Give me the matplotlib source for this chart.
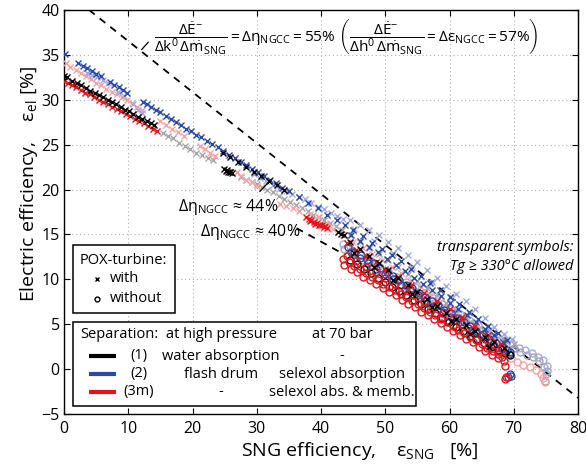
import matplotlib
matplotlib.use("Agg")
import matplotlib.pyplot as plt
from matplotlib.patches import Rectangle

plt.rcParams['font.family'] = ['Open Sans', 'DejaVu Sans']
plt.rcParams['mathtext.fontset'] = 'custom'
plt.rcParams['mathtext.rm'] = 'Open Sans'
plt.rcParams['mathtext.it'] = 'Open Sans:italic'
plt.rcParams['mathtext.bf'] = 'Open Sans:bold'

# ---------------- data ----------------
# with POX turbine (x markers), opaque = Tg limited
blk_x_x = [0.0, 0.4, 1.3, 2.0, 2.7, 3.4, 4.1, 4.8, 5.5, 6.1, 6.8, 7.5, 8.1, 8.8, 9.5, 10.1, 10.8, 11.5, 12.2, 12.9, 13.5, 14.0,
           24.9, 25.2, 25.5, 25.8, 26.1, 25.4, 25.9,
           24.7, 25.9, 27.1, 28.3, 29.5, 30.7, 31.9, 33.1, 34.3,
           42.6, 43.1, 43.6,
           44.5, 46.0, 47.5, 49.0, 50.5, 52.0, 53.5, 55.0, 56.5, 58.0, 59.5, 61.0, 62.5, 64.0, 65.5, 67.0, 68.5,
           45.2, 48.2, 51.2, 54.2, 57.2, 60.2, 63.2, 66.2]
blk_x_y = [32.6, 32.5, 32.1, 31.9, 31.6, 31.3, 31.0, 30.8, 30.5, 30.3, 30.0, 29.7, 29.5, 29.2, 28.9, 28.7, 28.4, 28.1, 27.9, 27.6, 27.4, 27.2,
           22.3, 22.1, 21.9, 22.0, 21.8, 22.2, 21.9,
           24.1, 23.6, 23.1, 22.5, 22.0, 21.5, 21.0, 20.5, 20.0,
           15.3, 15.1, 14.9,
           14.2, 13.4, 12.6, 11.8, 11.0, 10.2, 9.4, 8.6, 7.8, 7.0, 6.3, 5.6, 4.9, 4.2, 3.6, 3.0, 2.4,
           12.9, 11.4, 9.9, 8.4, 6.9, 5.4, 3.9, 2.5]

blu_x_x = [0.1, 2.2, 2.9, 3.6, 4.3, 5.0, 5.7, 7.2, 7.8, 8.5, 9.2, 9.8, 12.3, 12.9, 13.6, 14.3, 15.0, 15.8, 16.6, 17.4, 18.2,
           19.0, 19.8, 20.6, 21.4, 22.2, 23.0, 23.9, 24.8, 25.7, 26.6, 27.5, 28.4, 29.3, 30.2, 31.1, 32.0, 33.0, 34.0,
           35.0, 36.5, 38.0, 39.5, 41.0, 42.5, 43.7,
           45.0, 46.5, 48.0, 49.5, 51.0, 52.5, 54.0, 55.5, 57.0, 58.5, 60.0, 61.5, 63.0, 64.5, 66.0, 67.5, 69.0,
           44.6, 46.0, 47.4, 48.8, 50.2, 51.6, 53.0, 54.4, 55.8, 57.2, 58.6, 60.0, 61.4, 62.8, 64.2, 65.6, 67.0, 68.4]
blu_x_y = [35.1, 34.1, 33.8, 33.5, 33.2, 32.9, 32.6, 32.0, 31.7, 31.4, 31.1, 30.8, 29.8, 29.5, 29.2, 28.9, 28.6, 28.2, 27.9, 27.5, 27.2,
           26.8, 26.5, 26.1, 25.8, 25.4, 25.1, 24.7, 24.3, 23.9, 23.5, 23.1, 22.7, 22.3, 21.9, 21.5, 21.1, 20.7, 20.2,
           19.8, 19.2, 18.5, 17.9, 17.2, 16.6, 16.1,
           15.5, 14.8, 14.1, 13.4, 12.7, 12.0, 11.2, 10.4, 9.6, 8.8, 8.0, 7.2, 6.4, 5.6, 4.8, 4.0, 3.2,
           14.9, 14.3, 13.6, 13.0, 12.3, 11.6, 10.9, 10.2, 9.5, 8.8, 8.1, 7.4, 6.7, 6.0, 5.2, 4.5, 3.8, 3.0]

red_x_x = [0.0, 0.6, 1.2, 1.9, 2.6, 3.3, 4.0, 4.7, 5.4, 6.1, 6.8, 7.5, 8.2, 8.9, 9.6, 10.3, 11.0, 11.7, 12.4, 13.1, 13.8, 14.4,
           37.7, 38.1, 38.5, 38.9, 39.3, 39.7, 40.1, 40.5, 40.9, 38.3, 39.0, 39.8, 40.6,
           44.0, 45.5, 47.0, 48.5, 50.0, 52.0, 54.0, 56.0, 58.0, 60.0, 62.0, 64.0, 66.0, 68.0]
red_x_y = [32.1, 31.9, 31.6, 31.4, 31.1, 30.8, 30.6, 30.3, 30.0, 29.8, 29.5, 29.2, 29.0, 28.7, 28.4, 28.2, 27.9, 27.6, 27.4, 27.1, 26.8, 26.5,
           16.9, 16.7, 16.6, 16.4, 16.3, 16.1, 16.0, 15.8, 15.7, 16.5, 16.2, 16.0, 15.9,
           14.0, 13.3, 12.6, 11.9, 11.2, 10.3, 9.4, 8.5, 7.6, 6.7, 5.8, 4.8, 3.8, 2.8]

# with POX turbine, transparent = Tg >= 330 C allowed
gry_x_x = [15.4, 16.2, 17.0, 17.9, 18.8, 19.6, 20.6, 21.5, 22.4, 23.2,
           27.6, 28.4, 29.2, 30.0, 30.8, 31.6, 32.5, 33.4, 34.3, 35.2, 36.1, 37.0, 37.9, 38.8, 39.7, 40.5, 41.4, 42.3, 43.2,
           44.5, 46.0, 47.5, 49.0, 50.5, 52.0, 53.5, 55.0, 56.5, 58.0, 59.5, 61.0, 62.5, 64.0, 65.5, 67.0, 68.5, 70.0]
gry_x_y = [26.3, 26.0, 25.7, 25.2, 24.8, 24.5, 24.1, 23.8, 23.5, 23.3,
           21.4, 21.1, 20.8, 20.6, 20.3, 20.0, 19.7, 19.3, 19.0, 18.6, 18.3, 17.9, 17.6, 17.2, 16.9, 16.6, 16.3, 15.9, 15.5,
           14.9, 14.2, 13.5, 12.8, 12.1, 11.4, 10.6, 9.8, 9.0, 8.2, 7.4, 6.6, 5.8, 5.0, 4.3, 3.7, 3.2, 2.8]

pnk_x_x = [0.3, 1.0, 1.8, 2.6, 3.4, 4.2, 5.0, 5.8, 6.6, 7.4, 8.2, 9.0, 9.8, 10.6, 11.4, 12.2,
           15.0, 15.9, 16.8, 17.7, 18.6, 21.1, 21.9, 22.7, 23.5, 26.9, 27.6, 28.4, 29.2, 30.0,
           33.6, 34.6, 35.6, 36.6, 38.3, 39.5, 41.0, 41.8, 42.6, 43.4,
           45.0, 46.5, 48.0, 49.5, 51.0, 52.5, 54.0, 55.5, 57.0, 58.5, 60.0, 61.5, 63.0, 64.5, 66.0, 67.5]
pnk_x_y = [34.1, 33.7, 33.3, 33.0, 32.6, 32.3, 31.9, 31.6, 31.2, 30.9, 30.6, 30.3, 30.0, 29.6, 29.2, 28.9,
           27.6, 27.2, 26.8, 26.4, 26.0, 24.8, 24.5, 24.1, 23.7, 21.9, 21.5, 21.1, 20.8, 20.4,
           18.4, 18.2, 18.0, 17.6, 17.3, 16.9, 15.9, 15.6, 15.3, 14.9,
           14.2, 13.5, 12.8, 12.1, 11.4, 10.7, 9.9, 9.1, 8.3, 7.5, 6.7, 5.9, 5.1, 4.3, 3.5, 2.8]

lav_x_x = [3.6, 4.4, 5.2, 6.0, 6.8, 8.4, 9.4, 10.8, 11.5, 12.2,
           29.5, 30.5, 31.5, 32.5, 33.5, 34.5, 35.5, 36.5, 37.5, 38.5, 39.5, 40.5, 41.5, 42.5, 43.5,
           44.5, 46.0, 47.5, 49.0, 50.5, 52.0, 53.5, 55.0, 56.5, 58.0, 59.5, 61.0, 62.5, 64.0, 65.5, 67.0, 68.5, 69.8,
           45.2, 48.2, 51.2, 54.2, 57.2, 60.2, 63.2, 66.2]
lav_x_y = [33.0, 32.8, 32.5, 32.2, 31.9, 30.9, 30.4, 29.5, 28.9, 28.5,
           21.7, 21.3, 20.9, 20.5, 20.1, 19.8, 19.5, 19.2, 18.9, 18.5, 18.1, 17.8, 17.4, 17.0, 16.7,
           16.6, 16.1, 15.5, 14.9, 14.2, 13.5, 12.7, 11.9, 11.0, 10.2, 9.3, 8.4, 7.6, 6.7, 5.7, 4.7, 3.9, 3.3,
           15.6, 14.3, 12.9, 11.4, 9.7, 8.0, 6.3, 4.4]

# without POX turbine (circles), opaque
red_o_x = [43.4, 44.3, 45.2, 46.1, 47.0, 47.9, 48.8, 49.7, 50.6, 51.5, 52.4, 53.3, 54.2, 55.1, 56.0, 56.9, 57.8, 58.7, 59.6,
           60.5, 61.4, 62.3, 63.2, 64.1, 65.0, 65.9, 66.8, 67.6, 68.2,
           43.6, 44.6, 45.6, 46.6, 47.6, 48.6, 49.6, 50.6, 51.6, 52.6, 53.6, 54.6, 55.6, 56.6, 57.6, 58.6, 59.6, 60.6,
           61.6, 62.6, 63.6, 64.6, 65.6, 66.6, 67.5,
           44.0, 45.5, 47.0, 48.5, 50.0, 51.5, 53.0, 54.5, 56.0, 57.5, 59.0, 60.5, 62.0, 63.5, 65.0, 66.5, 68.0,
           68.5, 68.6, 68.7, 68.8]
red_o_y = [12.3, 11.9, 11.5, 11.1, 10.7, 10.3, 9.9, 9.5, 9.2, 8.8, 8.4, 8.0, 7.6, 7.2, 6.8, 6.4, 6.0, 5.6, 5.2,
           4.8, 4.4, 4.0, 3.6, 3.2, 2.8, 2.4, 2.0, 1.7, 1.4,
           11.6, 11.2, 10.8, 10.3, 9.9, 9.5, 9.0, 8.6, 8.2, 7.7, 7.3, 6.9, 6.4, 6.0, 5.6, 5.1, 4.7, 4.3,
           3.8, 3.4, 3.0, 2.5, 2.0, 1.6, 1.2,
           12.6, 12.0, 11.4, 10.8, 10.1, 9.5, 8.9, 8.2, 7.6, 7.0, 6.3, 5.7, 5.0, 4.4, 3.7, 3.0, 2.3,
           0.9, 0.3, -1.1, -0.9]

blu_o_x = [44.2, 45.2, 46.2, 47.2, 48.2, 49.2, 50.2, 51.2, 52.2, 53.2, 54.2, 55.2, 56.2, 57.2, 58.2, 59.2, 60.2, 61.2,
           62.2, 63.2, 64.2, 65.2, 66.2, 67.2, 68.2, 69.0, 69.4,
           44.7, 46.0, 47.3, 48.6, 49.9, 51.2, 52.5, 53.8, 55.1, 56.4, 57.7, 59.0, 60.3, 61.6, 62.9, 64.2, 65.5, 66.8, 68.1, 69.2,
           69.1, 69.4, 69.6]
blu_o_y = [13.6, 13.1, 12.7, 12.2, 11.8, 11.3, 10.8, 10.4, 9.9, 9.4, 9.0, 8.5, 8.0, 7.6, 7.1, 6.6, 6.2, 5.7,
           5.3, 4.8, 4.3, 3.9, 3.4, 2.9, 2.5, 2.1, 1.9,
           13.0, 12.4, 11.8, 11.2, 10.6, 10.0, 9.4, 8.8, 8.2, 7.6, 7.0, 6.4, 5.8, 5.2, 4.6, 4.0, 3.4, 2.8, 2.2, 1.7,
           -0.9, -0.6, -0.8]

blk_o_x = [44.5, 45.6, 46.7, 47.8, 48.9, 50.0, 51.1, 52.2, 53.3, 54.4, 55.5, 56.6, 57.7, 58.8, 59.9, 61.0, 62.1, 63.2,
           64.3, 65.4, 66.5, 67.6, 68.7, 69.4]
blk_o_y = [12.2, 11.7, 11.2, 10.7, 10.2, 9.7, 9.2, 8.7, 8.2, 7.7, 7.2, 6.7, 6.2, 5.7, 5.2, 4.7, 4.2, 3.7,
           3.3, 2.9, 2.5, 2.1, 1.8, 1.6]

# without POX turbine, transparent
lav_o_x = [43.4, 44.8, 46.2, 47.6, 49.0, 50.4, 51.8, 53.2, 54.6, 56.0, 57.4, 58.8, 60.2, 61.6, 63.0, 64.4, 65.8, 67.2,
           68.6, 69.8, 70.8, 71.8, 72.8, 73.8, 74.6, 75.1, 75.2]
lav_o_y = [13.9, 13.3, 12.7, 12.1, 11.5, 10.9, 10.3, 9.7, 9.1, 8.5, 7.9, 7.3, 6.7, 6.1, 5.5, 4.9, 4.3, 3.7,
           3.2, 2.8, 2.4, 2.1, 1.8, 1.4, 1.0, 0.4, -0.2]
gry_o_x = [43.6, 45.0, 46.4, 47.8, 49.2, 50.6, 52.0, 53.4, 54.8, 56.2, 57.6, 59.0, 60.4, 61.8, 63.2, 64.6, 66.0, 67.4,
           68.8, 70.0, 71.0, 72.0, 73.0, 74.0, 74.7, 75.0, 74.9]
gry_o_y = [13.4, 12.8, 12.2, 11.6, 11.0, 10.4, 9.8, 9.2, 8.6, 8.0, 7.4, 6.8, 6.2, 5.6, 5.0, 4.4, 3.8, 3.2,
           2.7, 2.3, 1.9, 1.6, 1.3, 0.9, 0.2, -0.6, -1.3]
pnk_o_x = [44.0, 45.5, 47.0, 48.5, 50.0, 51.5, 53.0, 54.5, 56.0, 57.5, 59.0, 60.5, 62.0, 63.5, 65.0, 66.5, 68.0,
           69.5, 70.5, 71.5, 72.5, 73.5, 74.2, 74.6, 74.9]
pnk_o_y = [12.8, 12.1, 11.5, 10.8, 10.1, 9.5, 8.8, 8.1, 7.4, 6.8, 6.1, 5.4, 4.7, 4.0, 3.3, 2.5, 1.8,
           1.2, 0.8, 0.5, 0.2, -0.1, -0.5, -1.0, -1.4]

# reference lines (slopes of NGCC efficiency)
line55_x = [3.9, 80.0]
line55_y = [40.0, -3.2]
line40_x = [36.2, 43.8]
line40_y = [15.7, 12.7]

x_ticks = [0, 10, 20, 30, 40, 50, 60, 70, 80]
y_ticks = [-5, 0, 5, 10, 15, 20, 25, 30, 35, 40]

# ---------------- figure ----------------
W, H = 586, 471
fig = plt.figure(figsize=(W / 100, H / 100), dpi=100)
L, R, T, B = 64, 578, 10, 414
ax = fig.add_axes([L / W, 1 - B / H, (R - L) / W, (B - T) / H])

BLUE = '#2a4aa6'
RED = '#e5141b'
BLACK = '#000000'
c_lav = '#a4a9de'
c_pnk = '#f5a3a3'
c_gry = '#a6a6a6'

ax.plot(line55_x, line55_y, color='k', lw=1.3, ls=(0, (4, 3.5)), zorder=2)
ax.plot(line40_x, line40_y, color='k', lw=1.3, ls=(0, (4, 3.5)), zorder=2)

ms = 5.0
kx = dict(ls='none', marker='x', ms=ms, mew=1.0)
ko = dict(ls='none', marker='o', ms=ms, mew=1.0, mfc='none')

# transparent first
ax.plot(gry_o_x, gry_o_y, color=c_gry, zorder=3, **ko)
ax.plot(pnk_o_x, pnk_o_y, color=c_pnk, zorder=3, **ko)
ax.plot(lav_o_x, lav_o_y, color=c_lav, zorder=3, **ko)
ax.plot(gry_x_x, gry_x_y, color=c_gry, zorder=3, **kx)
ax.plot(pnk_x_x, pnk_x_y, color=c_pnk, zorder=3, **kx)
ax.plot(lav_x_x, lav_x_y, color=c_lav, zorder=3, **kx)
# opaque
ax.plot(blu_o_x, blu_o_y, color=BLUE, zorder=4, **ko)
ax.plot(blk_o_x, blk_o_y, color=BLACK, zorder=4, **ko)
ax.plot(red_o_x, red_o_y, color=RED, zorder=4, **ko)
ax.plot(blu_x_x, blu_x_y, color=BLUE, zorder=5, **kx)
ax.plot(red_x_x, red_x_y, color=RED, zorder=5, **kx)
ax.plot(blk_x_x, blk_x_y, color=BLACK, zorder=5, **kx)

ax.set_xlim(0, 80)
ax.set_ylim(-5, 40)
ax.set_xticks(x_ticks)
ax.set_yticks(y_ticks)
ax.set_yticklabels(['\u22125' if v < 0 else str(v) for v in y_ticks])
ax.grid(True, color='#b0b0b0', lw=0.8, ls=(0, (1, 2.5)))
ax.set_axisbelow(True)
ax.tick_params(direction='in', top=True, right=True, length=4, width=0.8, labelsize=11.5)
ax.tick_params(axis='x', pad=5)
ax.tick_params(axis='y', pad=3)
for s in ax.spines.values():
    s.set_linewidth(1.0)

# axis labels
ax.text(0.575, -0.092, r"SNG efficiency,    $\mathrm{ε_{SNG}}$   [%]", transform=ax.transAxes,
        ha='center', va='center', fontsize=14)
ax.text(-0.068, 0.57, r"Electric efficiency,    $\mathrm{ε_{el}}$ [%]", transform=ax.transAxes,
        ha='center', va='center', fontsize=14, rotation=90)

# annotations
ann = (r"$\dfrac{\mathrm{Δ\dot{E}^{-}}}{\mathrm{Δk^{0}\,Δ\dot{m}_{SNG}}} = \mathrm{Δη_{NGCC}} = \mathrm{55\%}"
       r"\ \left(\dfrac{\mathrm{Δ\dot{E}^{-}}}{\mathrm{Δh^{0}\,Δ\dot{m}_{SNG}}} = \mathrm{Δε_{NGCC}} = \mathrm{57\%}\right)$")
ax.text(14.0, 37.0, ann, ha='left', va='center', fontsize=11.1)
ax.plot([12.1, 13.1], [35.6, 36.4], color='k', lw=0.9)
ax.text(17.7, 18.1, r"$\mathrm{Δη_{NGCC}}$ ≈ 44%", ha='left', va='center', fontsize=11.5)
ax.plot([30.5, 31.7], [19.8, 20.7], color='k', lw=0.9, zorder=6)
ax.text(21.2, 15.3, r"$\mathrm{Δη_{NGCC}}$ ≈ 40%", ha='left', va='center', fontsize=11.5)
ax.text(79.3, 13.6, "transparent symbols:", ha='right', va='center', fontsize=10.5, style='italic')
ax.text(79.3, 11.4, "Tg ≥ 330°C allowed", ha='right', va='center', fontsize=10.5, style='italic')


def axp(px, py):
    return ((px - L) / (R - L), (B - py) / (B - T))


# legend box 1
x0, y1 = axp(73, 245)
x1, y0 = axp(175, 313)
ax.add_patch(Rectangle((x0, y0), x1 - x0, y1 - y0, transform=ax.transAxes, fc='white', ec='k', lw=1.1, zorder=7))
tx, ty = axp(80, 261)
ax.text(tx, ty, "POX-turbine:", transform=ax.transAxes, ha='left', va='center', fontsize=10.5, zorder=8)
mx, my = axp(97, 279)
ax.plot([mx], [my], transform=ax.transAxes, marker='x', color='k', ms=3.5, mew=1.0, zorder=8)
tx, _ = axp(110, 279)
ax.text(tx, my, "with", transform=ax.transAxes, ha='left', va='center', fontsize=10.5, zorder=8)
mx, my = axp(97, 299)
ax.plot([mx], [my], transform=ax.transAxes, marker='o', color='k', mfc='none', ms=3.5, mew=1.0, zorder=8)
ax.text(tx, my, "without", transform=ax.transAxes, ha='left', va='center', fontsize=10.5, zorder=8)

# legend box 2
x0, y1 = axp(73, 322)
x1, y0 = axp(416, 406)
ax.add_patch(Rectangle((x0, y0), x1 - x0, y1 - y0, transform=ax.transAxes, fc='white', ec='k', lw=1.1, zorder=7))
rows_y = [335, 356, 374, 392]
col_num, col_hp, col_70 = 139, 221, 342
fs = 10.5
tx, ty = axp(80, rows_y[0])
ax.text(tx, ty, "Separation:", transform=ax.transAxes, ha='left', va='center', fontsize=fs, zorder=8)
ax.text(axp(col_hp, 0)[0], ty, "at high pressure", transform=ax.transAxes, ha='center', va='center', fontsize=fs, zorder=8)
ax.text(axp(col_70, 0)[0], ty, "at 70 bar", transform=ax.transAxes, ha='center', va='center', fontsize=fs, zorder=8)
sep_labels = ["(1)", "(2)", "(3m)"]
sep_hp = ["water absorption", "flash drum", "-"]
sep_70 = ["-", "selexol absorption", "selexol abs. & memb."]
sep_colors = [BLACK, BLUE, RED]
for i in range(3):
    _, ry = axp(0, rows_y[i + 1])
    lx0, _ = axp(89, 0)
    lx1, _ = axp(116, 0)
    ax.plot([lx0, lx1], [ry, ry], transform=ax.transAxes, color=sep_colors[i], lw=3, solid_capstyle='butt', zorder=8)
    ax.text(axp(col_num, 0)[0], ry, sep_labels[i], transform=ax.transAxes, ha='center', va='center', fontsize=fs, zorder=8)
    ax.text(axp(col_hp, 0)[0], ry, sep_hp[i], transform=ax.transAxes, ha='center', va='center', fontsize=fs, zorder=8)
    ax.text(axp(col_70, 0)[0], ry, sep_70[i], transform=ax.transAxes, ha='center', va='center', fontsize=fs, zorder=8)

fig.savefig("out.png", dpi=100)
